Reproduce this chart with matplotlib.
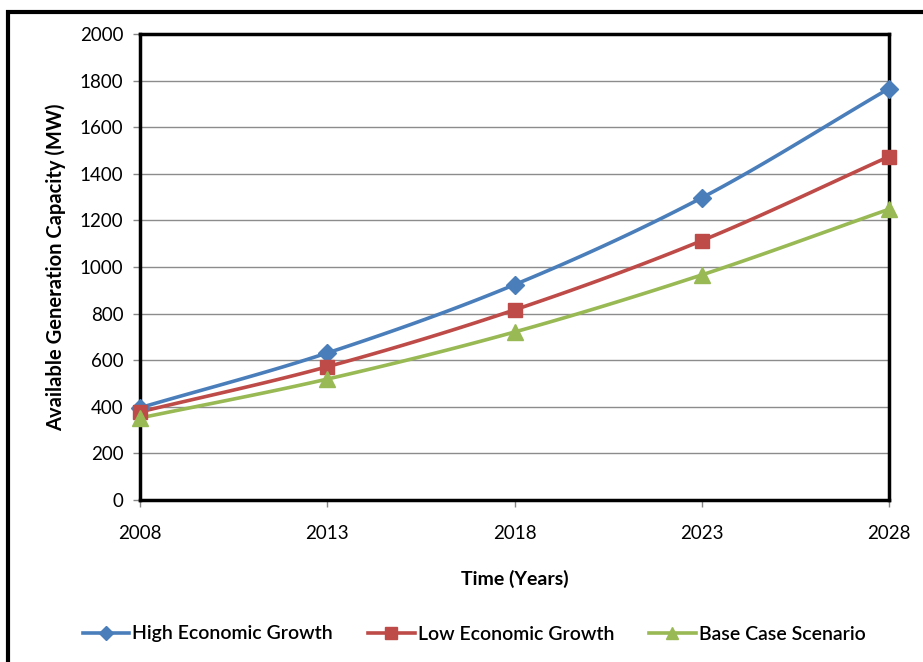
import numpy as np
import matplotlib
matplotlib.use("Agg")
import matplotlib.pyplot as plt
from matplotlib.patches import Rectangle

plt.rcParams['font.family'] = ['Lato', 'DejaVu Sans']

years = [2008, 2013, 2018, 2023, 2028]
high_growth = [396, 631, 924, 1297, 1766]
low_growth = [378, 572, 816, 1113, 1474]
base_case = [352, 519, 721, 966, 1248]
y_ticks = [0, 200, 400, 600, 800, 1000, 1200, 1400, 1600, 1800, 2000]

series = [
    ("High Economic Growth", high_growth, "#4A7EBB", "D", 9),
    ("Low Economic Growth", low_growth, "#BE4B48", "s", 10),
    ("Base Case Scenario", base_case, "#98B954", "^", 11),
]


def smooth_curve(x, y, n=30):
    """Catmull-Rom style smoothing through the given points (line rendering only)."""
    x = np.asarray(x, float)
    y = np.asarray(y, float)
    px = np.concatenate([[2 * x[0] - x[1]], x, [2 * x[-1] - x[-2]]])
    py = np.concatenate([[2 * y[0] - y[1]], y, [2 * y[-1] - y[-2]]])
    xs, ys = [], []
    t = np.linspace(0, 1, n)
    for i in range(1, len(px) - 2):
        p0, p1, p2, p3 = (np.array([px[j], py[j]]) for j in range(i - 1, i + 3))
        c1 = p1 + (p2 - p0) / 6
        c2 = p2 - (p3 - p1) / 6
        pts = ((1 - t) ** 3)[:, None] * p1 + (3 * (1 - t) ** 2 * t)[:, None] * c1 \
            + (3 * (1 - t) * t ** 2)[:, None] * c2 + (t ** 3)[:, None] * p2
        xs.extend(pts[:, 0])
        ys.extend(pts[:, 1])
    return np.array(xs), np.array(ys)


fig = plt.figure(figsize=(9.23, 6.62), dpi=100)
ax = fig.add_axes([140 / 923, 1 - 500 / 662, 749 / 923, 466 / 662])

for label, vals, color, marker, ms in series:
    sx, sy = smooth_curve(years, vals)
    ax.plot(sx, sy, color=color, lw=2.6, clip_on=False, zorder=3)
    ax.plot(years, vals, linestyle="none", marker=marker, color=color,
            markersize=ms, clip_on=False, zorder=4)
    ax.plot([], [], color=color, lw=2.6, marker=marker, markersize=ms - 2, label=label)

ax.set_xlim(2008, 2028)
ax.set_ylim(0, 2000)
ax.set_xticks(years)
ax.set_yticks(y_ticks)
ax.tick_params(axis="both", labelsize=13.5, direction="out", length=5,
               width=1, color="#868686")
ax.tick_params(axis="x", pad=13)
ax.tick_params(axis="y", pad=7)
ax.yaxis.grid(True, color="#8C8C8C", lw=1)
ax.set_axisbelow(True)
for sp in ax.spines.values():
    sp.set_linewidth(2.5)
    sp.set_color("black")

ax.set_ylabel("Available Generation Capacity (MW)", fontsize=14.5,
              fontweight="bold", labelpad=10)
ax.set_xlabel("Time (Years)", fontsize=14, fontweight="bold", labelpad=20)

fig.legend(loc="center", bbox_to_anchor=(474 / 923, 1 - 634 / 662), ncol=3,
           frameon=False, handlelength=2.4, handletextpad=0.15,
           columnspacing=1.8, prop={"weight": "semibold", "size": 14})

# chart-area frame
fig.patches.append(Rectangle((8 / 923, -0.05), 1.1, 1 - 12 / 662 + 0.05,
                             transform=fig.transFigure, fill=False,
                             edgecolor="black", lw=3, zorder=10))

fig.savefig("out.png", dpi=100)
